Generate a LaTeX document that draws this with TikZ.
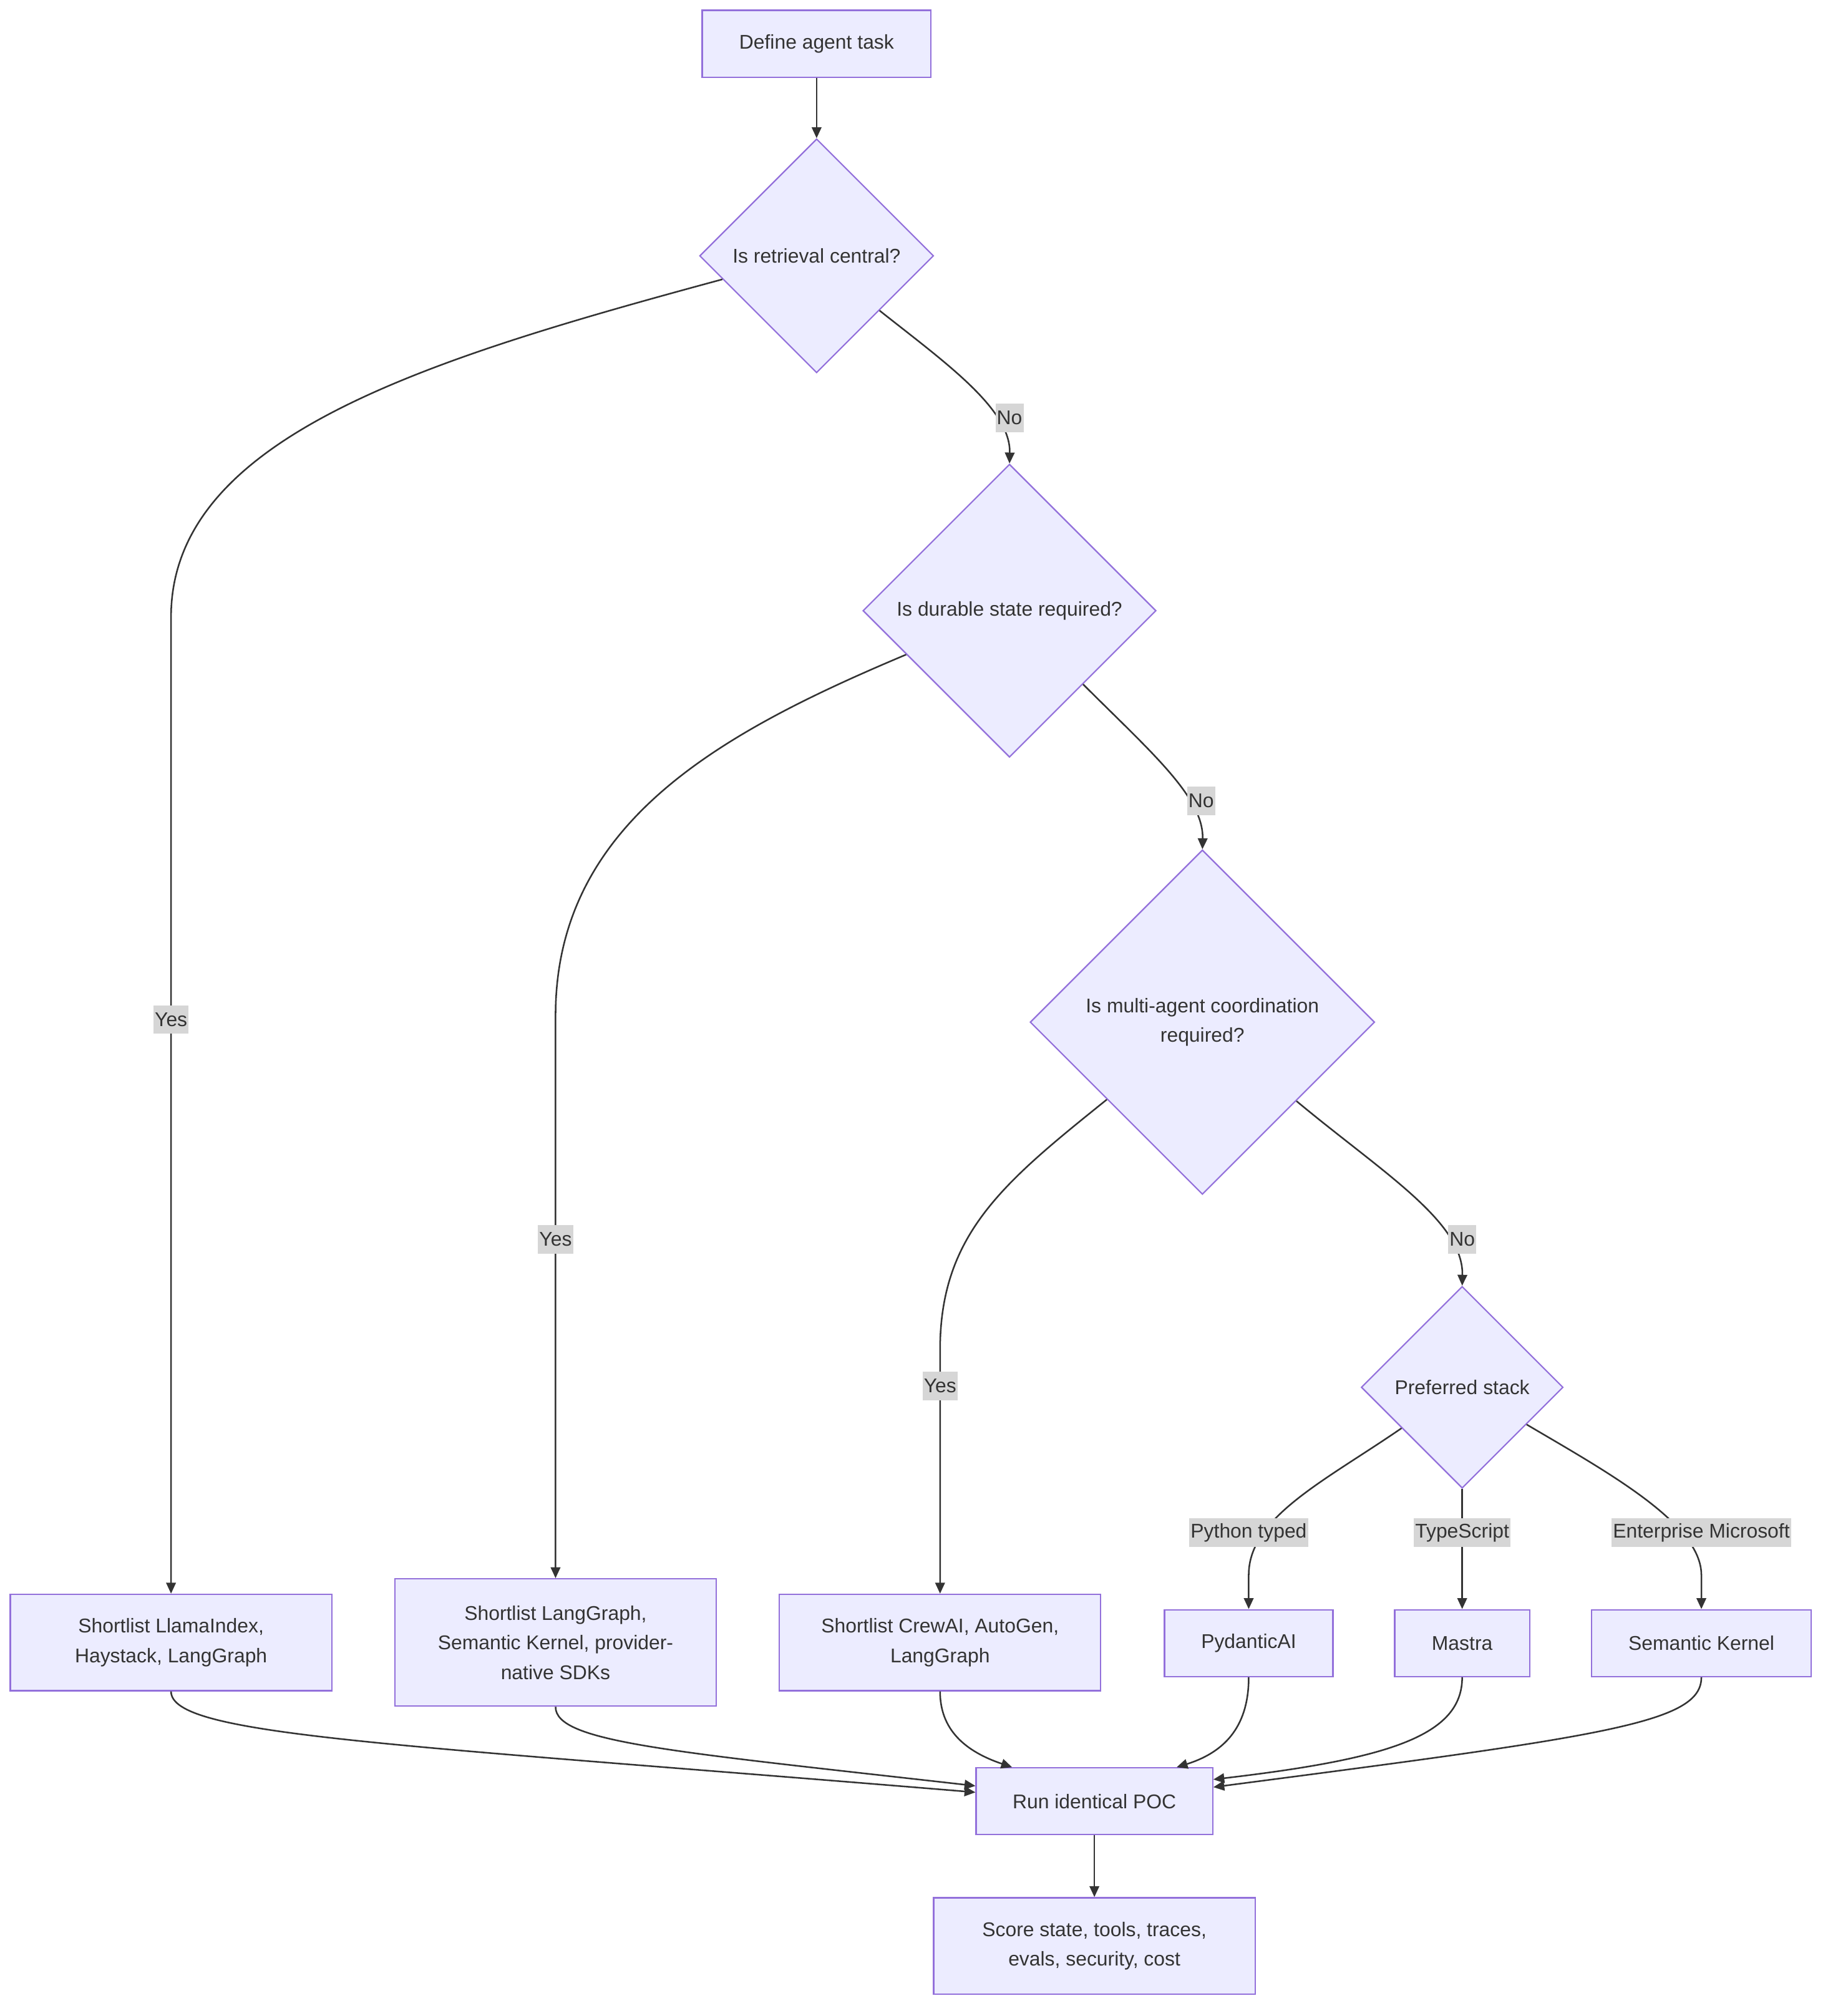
\documentclass[tikz,border=0pt]{standalone}
\usepackage{fontspec}
\setmainfont{Liberation Sans}
\usetikzlibrary{arrows.meta,shapes.geometric,calc}
\definecolor{nodefill}{HTML}{ECECFF}
\definecolor{nodeline}{HTML}{9370DB}
\definecolor{txt}{HTML}{333333}
\definecolor{lblbg}{HTML}{D6D6D6}
\begin{document}
\begin{tikzpicture}[x=0.02cm,y=-0.02cm,
  font=\fontsize{8.8}{13.1}\selectfont,
  box/.style={draw=nodeline, fill=nodefill, line width=0.6pt, rectangle, inner sep=0pt, align=center, text=txt},
  dec/.style={draw=nodeline, fill=nodefill, line width=0.6pt, diamond, shape aspect=1, inner sep=0pt, align=center, text=txt},
  edge/.style={draw=txt, line width=0.7pt, -{Triangle[length=0.17cm,width=0.15cm]}},
  lbl/.style={fill=lblbg, text=txt, inner xsep=0.6pt, inner ysep=0pt, minimum height=0.44cm}
]
\useasboundingbox[fill=white] (0,0) rectangle (1425,1568);

% nodes
\node[box, minimum width=3.56cm, minimum height=1.04cm] (def) at (635,34) {Define agent task};
\node[dec, minimum width=3.64cm, minimum height=3.64cm] (d1) at (635,199) {Is retrieval central?};
\node[dec, minimum width=4.56cm, minimum height=4.56cm] (d2) at (785,475) {Is durable state required?};
\node[dec, minimum width=5.36cm, minimum height=5.36cm] (d3) at (935,795) {Is multi-agent coordination\\required?};
\node[dec, minimum width=3.14cm, minimum height=3.14cm] (d4) at (1137,1079) {Preferred stack};

\node[box, minimum width=5cm, minimum height=1.5cm] (llama) at (133,1277.5) {Shortlist LlamaIndex,\\Haystack, LangGraph};
\node[box, minimum width=5cm, minimum height=1.98cm] (lg) at (432,1277.5) {Shortlist LangGraph,\\Semantic Kernel, provider-\\native SDKs};
\node[box, minimum width=5cm, minimum height=1.5cm] (crew) at (731,1277.5) {Shortlist CrewAI, AutoGen,\\LangGraph};
\node[box, minimum width=2.62cm, minimum height=1.04cm] (pyd) at (971,1278) {PydanticAI};
\node[box, minimum width=2.1cm, minimum height=1.04cm] (mastra) at (1137,1278) {Mastra};
\node[box, minimum width=3.42cm, minimum height=1.04cm] (sk) at (1323,1278) {Semantic Kernel};

\node[box, minimum width=3.68cm, minimum height=1.04cm] (poc) at (851,1401) {Run identical POC};
\node[box, minimum width=5cm, minimum height=1.5cm] (score) at (851,1513.5) {Score state, tools, traces,\\evals, security, cost};

% edges
\draw[edge] (def) -- (d1);
\draw[edge] (d1.194.6) .. controls (330,280) and (133,340) .. (133,480) -- (llama.north);
\draw[edge] (d1.-41) .. controls (735,282) and (786,318) .. (d2.north);
\draw[edge] (d2.203.6) .. controls (560,570) and (432,640) .. (432,790) -- (lg.north);
\draw[edge] (d2.-45.5) .. controls (895,585) and (936,620) .. (d3.north);
\draw[edge] (d3.219) .. controls (780,920) and (731,960) .. (731,1050) -- (crew.north);
\draw[edge] (d3.-40.3) .. controls (1075,912) and (1138,950) .. (d4.north);
\draw[edge] (d4.214.8) .. controls (1030,1152) and (971,1180) .. (971,1225) -- (pyd.north);
\draw[edge] (d4) -- (mastra);
\draw[edge] (d4.-30.6) .. controls (1250,1145) and (1323,1185) .. (1323,1225) -- (sk.north);

\draw[edge] (llama.south) .. controls (133,1350) and (300,1356) .. ([yshift=0.14cm]poc.west);
\draw[edge] (lg.south) .. controls (432,1355) and (520,1362) .. ([yshift=0.24cm]poc.west);
\draw[edge] (crew.south) .. controls (731,1345) and (750,1362) .. ([xshift=-1.28cm]poc.north);
\draw[edge] (pyd.south) .. controls (971,1340) and (955,1362) .. ([xshift=1.28cm]poc.north);
\draw[edge] (mastra.south) .. controls (1137,1350) and (1080,1368) .. ([yshift=0.34cm]poc.east);
\draw[edge] (sk.south) .. controls (1323,1340) and (1250,1350) .. ([yshift=0.22cm]poc.east);
\draw[edge] (poc) -- (score);

% edge labels
\node[lbl] (l1) at (133,793) {Yes};
\node[lbl] (l2) at (785,325) {No};
\node[lbl] (l3) at (432,964) {Yes};
\node[lbl] (l4) at (934,623) {No};
\node[lbl] (l5) at (731,1078) {Yes};
\node[lbl] (l6) at (1137,964) {No};
\node[lbl] (l7) at (971,1192) {Python typed};
\node[lbl] (l8) at (1137,1192) {TypeScript};
\node[lbl] (l9) at (1323,1192) {Enterprise Microsoft};
\end{tikzpicture}
\end{document}
